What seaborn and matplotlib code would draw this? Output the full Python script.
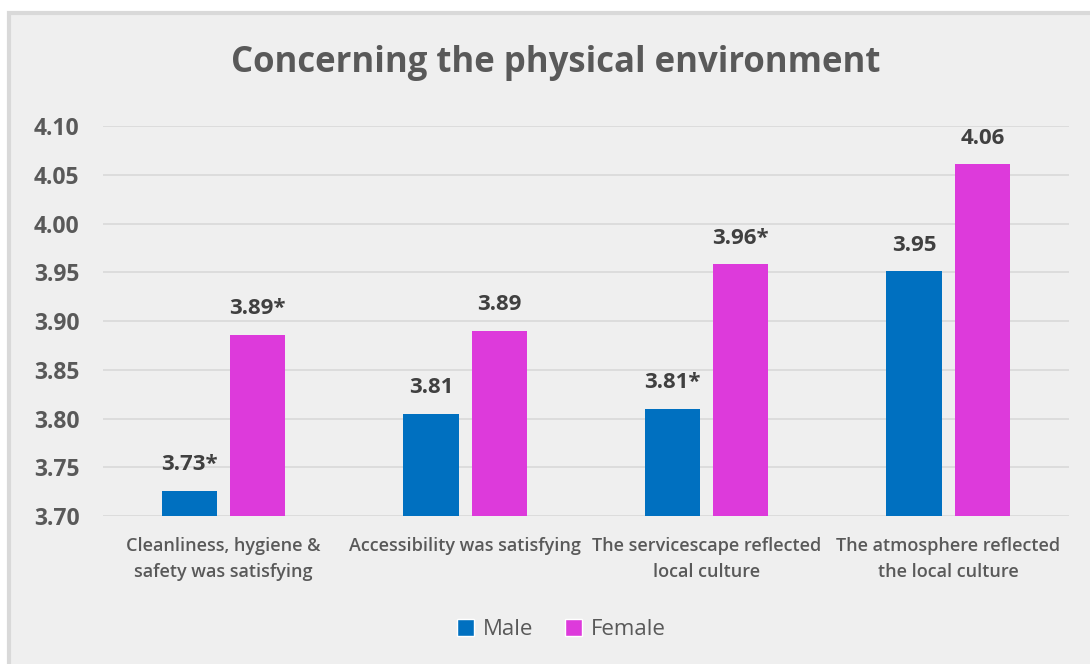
import pandas as pd
import numpy as np
import matplotlib.pyplot as plt
import seaborn as sns
from matplotlib.patches import Rectangle


# Datos
categorias = [
    "Cleanliness, hygiene &\nsafety was satisfying",
    "Accessibility was satisfying",
    "The servicescape reflected\nlocal culture",
    "The atmosphere reflected\nthe local culture",
]
hombres = [3.726, 3.805, 3.810, 3.951]
mujeres = [3.886, 3.890, 3.958, 4.061]
etiquetas_hombres = ["3.73*", "3.81", "3.81*", "3.95"]
etiquetas_mujeres = ["3.89*", "3.89", "3.96*", "4.06"]
grupos = ["Male", "Female"]
colores = {"Male": "#0070C0", "Female": "#DD3ADB"}

df = pd.DataFrame({
    "Categoria": categorias * 2,
    "Grupo": ["Male"] * 4 + ["Female"] * 4,
    "Valor": hombres + mujeres,
})

# Configuración visual
sns.set_style("white")
plt.rcParams["font.family"] = ["Open Sans", "DejaVu Sans"]
gris_texto = "#595959"

fig = plt.figure(figsize=(10.9, 6.64), dpi=100, facecolor="white")
fig.patches.append(Rectangle((0.0083, -0.05), 1.05, 1.03, transform=fig.transFigure,
                             facecolor="#EFEFEF", edgecolor="#D9D9D9", linewidth=3, zorder=-5))
ax = fig.add_axes([0.0945, 0.2229, 0.8862, 0.5873])
ax.patch.set_alpha(0)

sns.barplot(data=df, x="Categoria", y="Valor", hue="Grupo", hue_order=grupos,
            palette=colores, saturation=1, width=0.565, gap=0.19, linewidth=0,
            ax=ax, legend=False, zorder=3)

ax.set_ylim(3.70, 4.10)
ax.set_yticks(np.arange(3.70, 4.101, 0.05))
ax.set_yticklabels([f"{v:.2f}" for v in np.arange(3.70, 4.101, 0.05)],
                   fontsize=16.5, fontweight="bold", color=gris_texto)
ax.tick_params(axis="y", length=0, pad=17)
ax.tick_params(axis="x", length=0, pad=15, labelsize=13, labelcolor=gris_texto)
for lbl in ax.get_xticklabels():
    lbl.set_fontweight("semibold")
    lbl.set_linespacing(1.55)
ax.set_xlabel("")
ax.set_ylabel("")
ax.grid(axis="y", color="#D9D9D9", linewidth=1.2, zorder=0)
ax.set_axisbelow(True)
sns.despine(ax=ax, left=True, bottom=True)

# Etiquetas de datos
for cont, etiquetas in zip(ax.containers, [etiquetas_hombres, etiquetas_mujeres]):
    ax.bar_label(cont, labels=etiquetas, padding=11, fontsize=16, fontweight="bold",
                 color="#404040")

fig.text(0.51, 0.905, "Concerning the physical environment", ha="center", va="center",
         fontsize=25, fontweight="bold", color=gris_texto)

handles = [Rectangle((0, 0), 1, 1, facecolor=colores[g]) for g in grupos]
fig.legend(handles, grupos, loc="center", bbox_to_anchor=(0.515, 0.052), ncol=2,
           frameon=False, fontsize=16, handlelength=0.8, handleheight=0.8,
           handletextpad=0.4, columnspacing=1.4, labelcolor=gris_texto)

plt.savefig("out.png", dpi=100, facecolor="white")
